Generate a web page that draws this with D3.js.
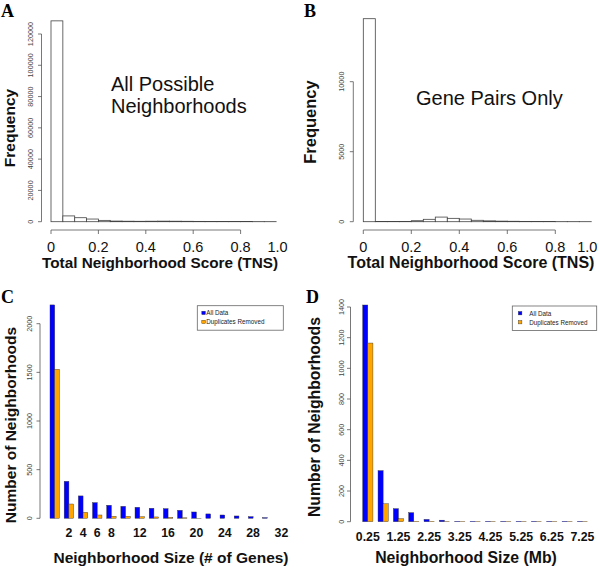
<!DOCTYPE html>
<html><head><meta charset="utf-8">
<script src="https://cdn.jsdelivr.net/npm/d3@7"></script>
<style>
html,body{margin:0;padding:0;background:#fff;}
svg{display:block;}
text{font-family:"Liberation Sans",Arial,Helvetica,sans-serif;}
</style></head>
<body>
<svg id="chart" width="600" height="567"></svg>
<script>
// ---------- DATA ----------
// Panel A: histogram of TNS, all possible neighborhoods (bin width 0.05)
const binWidth = 0.05;
const countsA = [128400, 3700, 2550, 1700, 850, 400, 300, 250, 300, 350, 300, 250, 200, 150, 120, 100, 80, 60, 40];
// Panel B: histogram of TNS, gene pairs only
const countsB = [14500, 10, 8, 15, 70, 170, 330, 240, 190, 100, 60, 40, 30, 20, 10, 8, 5, 5, 3];
const xTicksAB = [0, 0.2, 0.4, 0.6, 0.8, 1.0];
const xTickLabelsAB = ["0", "0.2", "0.4", "0.6", "0.8", "1.0"];
const yTicksA = [0, 20000, 40000, 60000, 80000, 100000, 120000];
const yTicksB = [0, 5000, 10000];

// Panel C: neighborhood size (# genes)
const sizesC = ["0","2","4","6","8","10","12","14","16","18","20","22","24","26","28","30","32"];
const shownC = ["2","4","6","8","12","16","20","24","28","32"];
const allDataC = [2193, 380, 230, 161, 134, 123, 113, 103, 99, 82, 65, 45, 34, 24, 17, 7, 0];
const dupRemC  = [1531, 147, 62, 34, 21, 21, 17, 14, 10, 5, 1, 0, 0, 0, 0, 0, 0];
const yTicksC = [0, 500, 1000, 1500, 2000];

// Panel D: neighborhood size (Mb)
const sizesD = ["0.25","0.75","1.25","1.75","2.25","2.75","3.25","3.75","4.25","4.75","5.25","5.75","6.25","6.75","7.25"];
const shownD = ["0.25","1.25","2.25","3.25","4.25","5.25","6.25","7.25"];
const allDataD = [1413, 333, 85, 59, 15, 10, 3, 3, 3, 3, 3, 3, 3, 3, 3];
const dupRemD  = [1165, 117, 20, 3, 3, 2, 2, 2, 2, 2, 2, 2, 2, 2, 2];
const yTicksD = [0, 200, 400, 600, 800, 1000, 1200, 1400];

const seriesNames = ["All Data", "Duplicates Removed"];
const seriesColors = ["#0000FF", "#FFA500"];

// ---------- DRAW ----------
const svg = d3.select("#chart");
const axisCol = "#555";
const tickCol = "#444";

function panelLetter(x, y, t) {
  svg.append("text").attr("x", x).attr("y", y).text(t)
    .style("font-family", "'Liberation Serif','Times New Roman',serif")
    .style("font-weight", "bold").style("font-size", "18px").attr("fill", "#000");
}
function yAxisRot(g, scale, ticks, axisX, labelX, fontSize) {
  g.append("line").attr("x1", axisX).attr("x2", axisX)
    .attr("y1", scale(ticks[0])).attr("y2", scale(ticks[ticks.length - 1]))
    .attr("stroke", axisCol).attr("stroke-width", 0.8);
  ticks.forEach(t => {
    g.append("line").attr("x1", axisX - 3.5).attr("x2", axisX)
      .attr("y1", scale(t)).attr("y2", scale(t)).attr("stroke", axisCol).attr("stroke-width", 0.8);
    g.append("text").attr("transform", `translate(${labelX},${scale(t)}) rotate(-90)`)
      .attr("text-anchor", "middle").style("font-size", fontSize + "px").attr("fill", tickCol).text(t);
  });
}
function rotLabel(x, y, t, size) {
  svg.append("text").attr("transform", `translate(${x},${y}) rotate(-90)`)
    .attr("text-anchor", "middle").style("font-weight", "bold").style("font-size", size + "px")
    .attr("fill", "#111").text(t);
}

function histPanel(counts, x0, pxPerUnit, baseY, yTop, yMax, ticksY, yAxisX, yLabX, lastShift, opts) {
  const g = svg.append("g");
  const x = d3.scaleLinear().domain([0, 1]).range([x0, x0 + pxPerUnit]);
  const y = d3.scaleLinear().domain([0, yMax]).range([baseY, yTop]);
  g.selectAll("rect.bar").data(counts).join("rect").attr("class", "bar")
    .attr("x", (d, i) => x(i * binWidth)).attr("width", x(binWidth) - x(0))
    .attr("y", d => y(d)).attr("height", d => baseY - y(d))
    .attr("fill", "#fff").attr("stroke", "#444").attr("stroke-width", 0.8);
  yAxisRot(g, y, ticksY, yAxisX, yLabX, 7.3);
  // x axis
  const axY = baseY + 8.3;
  g.append("line").attr("x1", x(0)).attr("x2", x(0.8)).attr("y1", axY).attr("y2", axY)
    .attr("stroke", axisCol).attr("stroke-width", 0.8);
  xTicksAB.forEach((t, i) => {
    if (t <= 0.8) g.append("line").attr("x1", x(t)).attr("x2", x(t)).attr("y1", axY).attr("y2", axY + 4)
      .attr("stroke", axisCol).attr("stroke-width", 0.8);
    g.append("text").attr("x", x(t) + (t === 1 ? lastShift : 0)).attr("y", axY + 21.5)
      .attr("text-anchor", "middle").style("font-size", opts.tickFont + "px").attr("fill", "#111")
      .text(xTickLabelsAB[i]);
  });
  return {x, y};
}

// Panel A
panelLetter(1, 17, "A");
histPanel(countsA, 51, 237, 221.7, 34, 120000, yTicksA, 41.5, 33, -10.5, {tickFont: 14.5});
rotLabel(15, 128, "Frequency", 15.5);
svg.append("text").attr("x", 160).attr("y", 268).attr("text-anchor", "middle")
  .style("font-weight", "bold").style("font-size", "15.3px").attr("fill", "#111").text("Total Neighborhood Score (TNS)");
svg.append("text").attr("x", 111).attr("y", 90.5).style("font-size", "20px").attr("fill", "#111").text("All Possible");
svg.append("text").attr("x", 111).attr("y", 113).style("font-size", "20px").attr("fill", "#111").text("Neighborhoods");

// Panel B
panelLetter(304, 17, "B");
histPanel(countsB, 363.3, 240, 221.7, 81.7, 10000, yTicksB, 353.3, 344, -16, {tickFont: 14.5});
rotLabel(316, 122, "Frequency", 16.5);
svg.append("text").attr("x", 471).attr("y", 268).attr("text-anchor", "middle")
  .style("font-weight", "bold").style("font-size", "16px").attr("fill", "#111").text("Total Neighborhood Score (TNS)");
svg.append("text").attr("x", 416).attr("y", 105).style("font-size", "20px").attr("fill", "#111").text("Gene Pairs Only");

// grouped bar panels
function barPanel(cats, shown, s1, s2, x0, pitch, baseY, yTop, yMax, ticksY, yAxisX, yLabX, legend) {
  const g = svg.append("g");
  const x = d3.scaleBand().domain(cats).range([x0, x0 + pitch * cats.length]).paddingInner(0).paddingOuter(0);
  const y = d3.scaleLinear().domain([0, yMax]).range([baseY, yTop]);
  const bw = x.step() / 3;
  [s1, s2].forEach((vals, si) => {
    g.selectAll(null).data(vals.map((v, i) => ({v, c: cats[i]}))).join("rect")
      .attr("x", d => x(d.c) + si * bw).attr("width", bw)
      .attr("y", d => y(d.v)).attr("height", d => baseY - y(d.v))
      .attr("fill", seriesColors[si]).attr("stroke", d => d.v > 0 ? "#333" : "none").attr("stroke-width", 0.4);
  });
  yAxisRot(g, y, ticksY, yAxisX, yLabX, 7.3);
  shown.forEach(c => {
    g.append("text").attr("x", x(c) + bw).attr("y", baseY + 19)
      .attr("text-anchor", "middle").style("font-weight", "bold").style("font-size", "12.3px")
      .attr("fill", "#111").text(c);
  });
  // legend
  const lg = g.append("g");
  lg.append("rect").attr("x", legend.x).attr("y", legend.y).attr("width", legend.w).attr("height", 24.5)
    .attr("fill", "#fff").attr("stroke", "#666").attr("stroke-width", 0.8);
  seriesNames.forEach((n, i) => {
    lg.append("rect").attr("x", legend.x + legend.sq).attr("y", legend.y + 5.5 + i * 9)
      .attr("width", 3.6).attr("height", 3.4).attr("fill", seriesColors[i]).attr("stroke", "#333").attr("stroke-width", 0.4);
    lg.append("text").attr("x", legend.x + legend.tx).attr("y", legend.y + 9.5 + i * 9)
      .style("font-size", "6.3px").attr("fill", "#222").text(n);
  });
}

// Panel C
panelLetter(1, 303, "C");
barPanel(sizesC, shownC, allDataC, dupRemC, 50, 14.17, 518.3, 323.7, 2000, yTicksC, 40, 32, {x: 197.3, y: 305.7, w: 86, sq: 4.5, tx: 9});
rotLabel(16, 425, "Number of Neighborhoods", 15.5);
svg.append("text").attr("x", 171).attr("y", 562.5).attr("text-anchor", "middle")
  .style("font-weight", "bold").style("font-size", "15.5px").attr("fill", "#111").text("Neighborhood Size (# of Genes)");

// Panel D
panelLetter(306, 303, "D");
barPanel(sizesD, shownD, allDataD, dupRemD, 362.7, 15.33, 521.7, 307, 1400, yTicksD, 350.5, 344, {x: 512.3, y: 306, w: 84.4, sq: 6, tx: 17});
rotLabel(320, 417, "Number of Neighborhoods", 15.8);
svg.append("text").attr("x", 466).attr("y", 562.5).attr("text-anchor", "middle")
  .style("font-weight", "bold").style("font-size", "15.8px").attr("fill", "#111").text("Neighborhood Size (Mb)");
</script>
</body></html>
